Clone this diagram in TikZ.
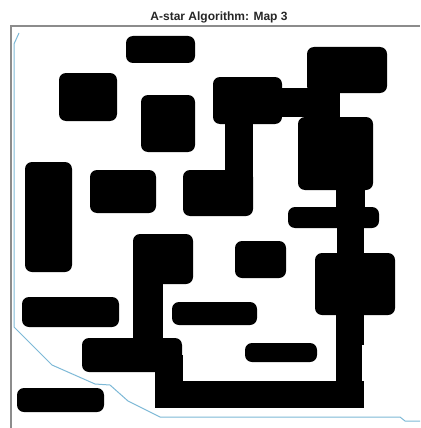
\documentclass[tikz,border=0pt]{standalone}
\usepackage{fontspec}
\setmainfont{Liberation Sans}
\begin{document}
\begin{tikzpicture}[x=1pt,y=-1pt,
  obst/.style={fill=black,rounded corners=7pt},
  pathseg/.style={fill=black},
  frameline/.style={draw=black!45,line width=1.1pt},
  route/.style={draw={rgb,255:red,125;green,185;blue,215},line width=1pt,line join=round}]
\useasboundingbox (0,0) rectangle (420,428);
\fill[white] (0,0) rectangle (420,428);
% frame
\draw[frameline] (11,428) -- (11,26) -- (420,26);
% title
\node[font=\bfseries\fontsize{12}{14}\selectfont,text=black!85] (title) at (219,17.5) {A-star Algorithm: Map 3};
% obstacles
\fill[obst] (126,36) rectangle (195,63);
\fill[obst] (59,73) rectangle (117,121);
\fill[obst] (141,95) rectangle (195,152);
\fill[obst] (25,162) rectangle (72,272);
\fill[obst] (90,170) rectangle (156,213);
\fill[obst] (307,47) rectangle (387,93);
\fill[obst] (213,77) rectangle (282,124);
\fill[obst] (298,117) rectangle (373,190);
\fill[obst] (288,207) rectangle (379,228);
\fill[obst] (315,253) rectangle (395,315);
\fill[obst] (183,170) rectangle (253,216);
\fill[obst] (133,234) rectangle (193,284);
\fill[obst] (235,241) rectangle (286,278);
\fill[obst] (22,297) rectangle (119,327);
\fill[obst] (172,302) rectangle (257,325);
\fill[obst] (82,338) rectangle (182,372);
\fill[obst] (245,343) rectangle (317,362);
\fill[obst] (17,388) rectangle (104,412);
% path segments
\fill[pathseg] (225,110) rectangle (253,185);
\fill[pathseg] (275,88) rectangle (340,117);
\fill[pathseg] (308,90) rectangle (338,122);
\fill[pathseg] (336,180) rectangle (365,212);
\fill[pathseg] (337,220) rectangle (364,260);
\fill[pathseg] (336,305) rectangle (364,345);
\fill[pathseg] (336,340) rectangle (362,408);
\fill[pathseg] (155,381) rectangle (364,408);
\fill[pathseg] (155,355) rectangle (183,408);
\fill[pathseg] (133,275) rectangle (163,345);
% route line
\draw[route] (19,33) -- (14,44) -- (14,327) -- (52,365) -- (95,384) -- (110,385) -- (128,401) -- (160,417) -- (400,417) -- (405,421) -- (420,421);
\end{tikzpicture}
\end{document}
